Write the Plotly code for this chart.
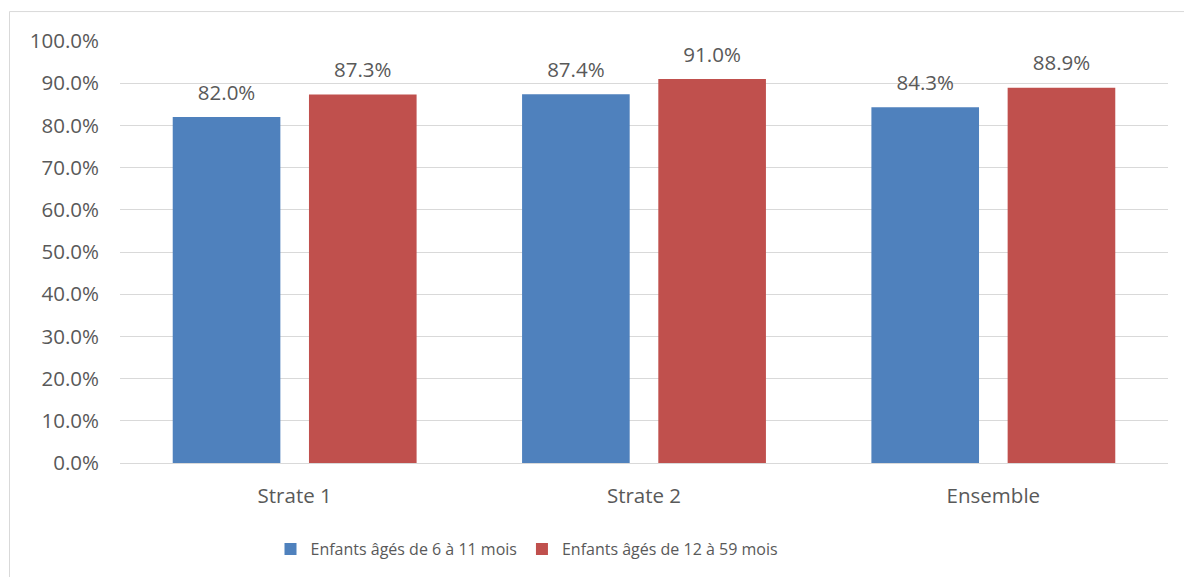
import plotly.graph_objects as go

# Data
categories = ["Strate 1", "Strate 2", "Ensemble"]
series_names = ["Enfants âgés de 6 à 11 mois", "Enfants âgés de 12 à 59 mois"]
values_6_11 = [0.820, 0.874, 0.843]
values_12_59 = [0.873, 0.910, 0.889]
tick_vals = [i / 10 for i in range(11)]

BLUE = "#4f81bd"
RED = "#c0504d"
TEXT = "#595959"
FONT = "Open Sans, Liberation Sans, sans-serif"

W, H = 1184, 577
L, R, T, B = 120, 16, 41, 113
pw, ph = W - L - R, H - T - B


def px_x(x):
    return (x - L) / pw


def px_y(y):
    return (H - B - y) / ph


fig = go.Figure()
series = [("a", series_names[0], values_6_11, BLUE),
          ("b", series_names[1], values_12_59, RED)]
for grp, name, vals, color in series:
    fig.add_trace(go.Bar(
        x=categories, y=vals, name=name, offsetgroup=grp,
        marker=dict(color=color, line=dict(width=0)),
        hoverinfo="skip",
    ))
# value labels, placed over their bars
for grp, name, vals, color in series:
    fig.add_trace(go.Scatter(
        x=categories, y=vals, offsetgroup=grp, mode="markers+text",
        text=[f"{v * 100:.1f}%" for v in vals], textposition="top center",
        textfont=dict(size=20.5, color=TEXT, family=FONT),
        marker=dict(size=18, opacity=0), showlegend=False, cliponaxis=False,
        hoverinfo="skip",
    ))

fig.update_layout(
    width=W, height=H,
    margin=dict(l=L, r=R, t=T, b=B),
    paper_bgcolor="white", plot_bgcolor="white",
    barmode="group", bargap=0.22, bargroupgap=0.21,
    scattermode="group", scattergap=0.22,
    font=dict(family=FONT, color=TEXT, size=20.5),
    showlegend=True,
    legend=dict(orientation="h", x=px_x(527), xanchor="center", y=px_y(549), yanchor="middle",
                font=dict(size=16, color=TEXT), itemwidth=30, traceorder="normal"),
    shapes=[dict(type="rect", xref="paper", yref="paper",
                 x0=px_x(9.5), x1=px_x(1200), y0=px_y(600), y1=px_y(11.5),
                 line=dict(color="#d9d9d9", width=1), layer="below")],
)
fig.update_xaxes(showline=False, ticks="", tickfont=dict(size=20.5, color=TEXT),
                 ticklabelstandoff=18)
fig.update_yaxes(range=[0, 1.0], tickvals=tick_vals, tickformat=".1%",
                 showgrid=True, gridcolor="#d9d9d9", gridwidth=1,
                 zeroline=True, zerolinecolor="#d9d9d9", zerolinewidth=1,
                 ticks="", tickfont=dict(size=20.5, color=TEXT), ticklabelstandoff=20)

fig.write_html("out.html", config={"displayModeBar": False},
               post_script="document.body.style.margin='0';")
